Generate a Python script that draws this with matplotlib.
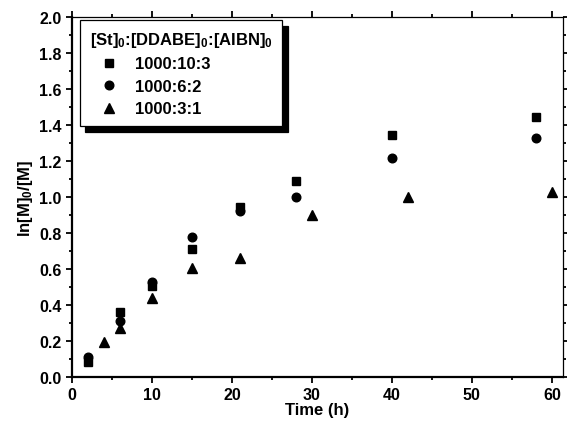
import matplotlib as mpl
mpl.use('Agg')
import matplotlib.pyplot as plt
from matplotlib.ticker import MultipleLocator

# data
t_sq = [2, 6, 10, 15, 21, 28, 40, 58]
y_sq = [0.083, 0.36, 0.505, 0.71, 0.945, 1.09, 1.345, 1.445]
t_ci = [2, 6, 10, 15, 21, 28, 40, 58]
y_ci = [0.11, 0.31, 0.53, 0.78, 0.925, 1.0, 1.22, 1.33]
t_tr = [4, 6, 10, 15, 21, 30, 42, 60]
y_tr = [0.195, 0.27, 0.44, 0.605, 0.66, 0.90, 1.0, 1.03]
labels = ['1000:10:3', '1000:6:2', '1000:3:1']

plt.rcParams['font.family'] = 'Liberation Sans'
plt.rcParams['font.weight'] = 'bold'
plt.rcParams['mathtext.fontset'] = 'custom'
plt.rcParams['mathtext.rm'] = 'Liberation Sans:bold'
plt.rcParams['mathtext.bf'] = 'Liberation Sans:bold'
plt.rcParams['mathtext.it'] = 'Liberation Sans:bold'

fig = plt.figure(figsize=(5.67, 4.27), dpi=100)
ax = fig.add_axes([0.127, 0.115, 0.866, 0.842])

ax.plot(t_sq, y_sq, 's', color='black', markersize=5.2, label=labels[0])
ax.plot(t_ci, y_ci, 'o', color='black', markersize=6.2, label=labels[1])
ax.plot(t_tr, y_tr, '^', color='black', markersize=6.5, label=labels[2])

ax.set_xlim(0, 61.4)
ax.set_ylim(0, 2.0)
ax.xaxis.set_major_locator(MultipleLocator(10))
ax.xaxis.set_minor_locator(MultipleLocator(5))
ax.yaxis.set_major_locator(MultipleLocator(0.2))
ax.yaxis.set_minor_locator(MultipleLocator(0.1))
ax.yaxis.set_major_formatter(mpl.ticker.FormatStrFormatter('%.1f'))

for s in ['left', 'bottom']:
    ax.spines[s].set_linewidth(1.6)
for s in ['top', 'right']:
    ax.spines[s].set_linewidth(0.9)

ax.tick_params(which='both', direction='out', width=1.3, labelsize=11.5)
ax.tick_params(which='major', length=4)
ax.tick_params(which='minor', length=2.5)
ax.tick_params(which='both', top=True, right=True, labeltop=False, labelright=False)

ax.set_xlabel('Time (h)', fontsize=12, fontweight='bold', labelpad=0)
ax.set_ylabel(r'ln[M]$_0$/[M]', fontsize=12, fontweight='bold', labelpad=3)

leg = ax.legend(title=r'[St]$_0$:[DDABE]$_0$:[AIBN]$_0$', loc='upper left',
                bbox_to_anchor=(0.016, 0.992), borderaxespad=0,
                numpoints=1, fancybox=False, alignment='left',
                framealpha=1, edgecolor='black', fontsize=12,
                title_fontsize=12, handletextpad=0.45, handlelength=2.3,
                labelspacing=0.45, borderpad=0.58,
                shadow={'color': 'black', 'alpha': 1, 'ox': 4, 'oy': -4})
leg.get_frame().set_linewidth(0.9)
leg.get_title().set_fontweight('bold')

plt.savefig('out.png', dpi=100)
